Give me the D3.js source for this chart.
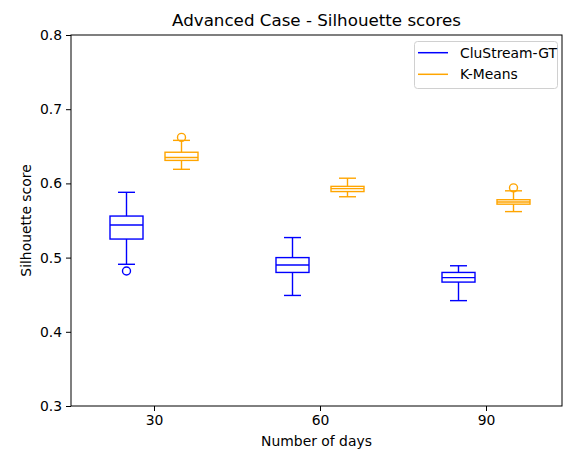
<!DOCTYPE html>
<html><head><meta charset="utf-8">
<script src="https://cdn.jsdelivr.net/npm/d3@7"></script>
<style>body{margin:0;background:#fff;} text{font-family:"DejaVu Sans",sans-serif;}</style>
</head><body>
<svg id="c" width="563" height="449"></svg>
<script>
const days = [30, 60, 90];
const tickLabelsY = [0.3, 0.4, 0.5, 0.6, 0.7, 0.8];
// CluStream-GT box statistics per day
const cluLow    = [0.491, 0.449, 0.442];
const cluQ1     = [0.525, 0.480, 0.467];
const cluMedian = [0.544, 0.490, 0.473];
const cluQ3     = [0.556, 0.500, 0.480];
const cluHigh   = [0.588, 0.527, 0.489];
const cluOutliers = [[0.482], [], []];
// K-Means box statistics per day
const kmLow    = [0.619, 0.582, 0.562];
const kmQ1     = [0.631, 0.589, 0.572];
const kmMedian = [0.635, 0.593, 0.575];
const kmQ3     = [0.642, 0.596, 0.578];
const kmHigh   = [0.658, 0.607, 0.590];
const kmOutliers = [[0.662], [], [0.594]];

const series = [
  {name: "CluStream-GT", color: "blue", offset: -0.5, low: cluLow, q1: cluQ1, med: cluMedian, q3: cluQ3, high: cluHigh, out: cluOutliers},
  {name: "K-Means", color: "orange", offset: 0.5, low: kmLow, q1: kmQ1, med: kmMedian, q3: kmQ3, high: kmHigh, out: kmOutliers}
];

const svg = d3.select("#c");
const L = 71, R = 562, T = 35, B = 406;
const FS = 13.9;
const y = d3.scaleLinear().domain([0.3, 0.8]).range([B, T]);
const x = d3.scaleBand().domain(days).range([71, 569]).paddingInner(0).paddingOuter(0);
const cx = d => x(d) + x.bandwidth() / 2;
const sub = d3.scaleLinear().domain([-1, 1]).range([-55, 55]);
const boxW = 33, capW = 17;

// axes
const yAxis = d3.axisLeft(y).tickValues(tickLabelsY).tickFormat(d3.format(".1f")).tickSize(5).tickPadding(4);
const gy = svg.append("g").attr("transform", `translate(${L},0)`).call(yAxis);
gy.select(".domain").remove();
gy.selectAll("text").attr("font-size", FS).attr("fill", "#000").attr("font-family", "DejaVu Sans");
gy.selectAll("line").attr("stroke", "#000");

const xAxis = d3.axisBottom(d3.scalePoint().domain(days).range([cx(days[0]), cx(days[days.length-1])]))
  .tickSize(5).tickPadding(4);
const gx = svg.append("g").attr("transform", `translate(0,${B})`).call(xAxis);
gx.select(".domain").remove();
gx.selectAll("text").attr("font-size", FS).attr("fill", "#000").attr("font-family", "DejaVu Sans");
gx.selectAll("line").attr("stroke", "#000");

svg.append("rect").attr("x", L).attr("y", T).attr("width", R - L).attr("height", B - T)
  .attr("fill", "none").attr("stroke", "#000").attr("stroke-width", 1);

// boxes
series.forEach(s => {
  days.forEach((d, i) => {
    const c = cx(d) + sub(s.offset);
    const g = svg.append("g").attr("stroke", s.color).attr("stroke-width", 1.4).attr("fill", "none");
    g.append("line").attr("x1", c).attr("x2", c).attr("y1", y(s.high[i])).attr("y2", y(s.q3[i]));
    g.append("line").attr("x1", c).attr("x2", c).attr("y1", y(s.q1[i])).attr("y2", y(s.low[i]));
    g.append("line").attr("x1", c - capW/2).attr("x2", c + capW/2).attr("y1", y(s.high[i])).attr("y2", y(s.high[i]));
    g.append("line").attr("x1", c - capW/2).attr("x2", c + capW/2).attr("y1", y(s.low[i])).attr("y2", y(s.low[i]));
    g.append("rect").attr("x", c - boxW/2).attr("width", boxW).attr("y", y(s.q3[i])).attr("height", y(s.q1[i]) - y(s.q3[i]));
    g.append("line").attr("x1", c - boxW/2).attr("x2", c + boxW/2).attr("y1", y(s.med[i])).attr("y2", y(s.med[i]));
    s.out[i].forEach(v => g.append("circle").attr("cx", c).attr("cy", y(v)).attr("r", 4));
  });
});

// title and labels
svg.append("text").attr("x", (L + R) / 2).attr("y", 26).attr("text-anchor", "middle").attr("font-size", 16.7).attr("fill", "#000").text("Advanced Case - Silhouette scores");
svg.append("text").attr("x", (L + R) / 2).attr("y", 446).attr("text-anchor", "middle").attr("font-size", FS).attr("fill", "#000").text("Number of days");
svg.append("text").attr("transform", `translate(31,${(T + B) / 2}) rotate(-90)`).attr("text-anchor", "middle").attr("font-size", FS).attr("fill", "#000").text("Silhouette score");

// legend
const lg = svg.append("g");
lg.append("rect").attr("x", 414.5).attr("y", 41.5).attr("width", 143).attr("height", 47).attr("rx", 3)
  .attr("fill", "#fff").attr("fill-opacity", 0.8).attr("stroke", "#d0d0d0").attr("stroke-width", 1);
series.forEach((s, i) => {
  const yy = 52.7 + i * 21.6;
  lg.append("line").attr("x1", 418).attr("x2", 448).attr("y1", yy).attr("y2", yy).attr("stroke", s.color).attr("stroke-width", 1.5);
  lg.append("text").attr("x", 460).attr("y", yy + 5).attr("font-size", FS).attr("fill", "#000").text(s.name);
});
</script>
</body></html>
